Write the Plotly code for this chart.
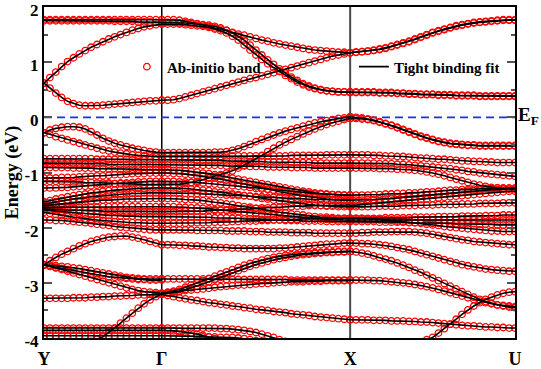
import plotly.graph_objects as go

# ---------------- k-path / axes data ----------------
K_TICKS = [0, 20, 52, 80]
K_LABELS = ["Y", "Γ", "X", "U"]
E_TICKS = [-4, -3, -2, -1, 0, 1, 2]
E_TICK_TEXT = ["-4", "-3", "-2", "-1", "0", "1", "2"]
E_MINOR = [-3.5, -2.5, -1.5, -0.5, 0.5, 1.5]
E_FERMI = 0.0

K_YG = list(range(0, 21))
K_GX = list(range(20, 53))
K_XU = list(range(52, 81))

# ---------------- bands, segment Y-Gamma (21 k-points) ----------------
BANDS_YG = [
    [1.77,1.77,1.77,1.77,1.77,1.77,1.77,1.77,1.77,1.77,1.77,1.77,1.77,1.77,1.77,1.77,1.77,1.77,1.77,1.77,1.77],
    [1.75,1.75,1.75,1.75,1.75,1.75,1.75,1.75,1.75,1.75,1.75,1.75,1.74,1.74,1.74,1.74,1.73,1.73,1.73,1.72,1.72],
    [0.62,0.72,0.82,0.92,1.01,1.08,1.15,1.21,1.27,1.32,1.37,1.42,1.46,1.50,1.54,1.58,1.61,1.64,1.66,1.68,1.69],
    [0.62,0.53,0.44,0.36,0.29,0.25,0.22,0.21,0.21,0.21,0.22,0.23,0.24,0.25,0.26,0.27,0.28,0.29,0.30,0.30,0.31],
    [-0.28,-0.23,-0.20,-0.18,-0.17,-0.17,-0.18,-0.21,-0.26,-0.32,-0.38,-0.43,-0.47,-0.50,-0.53,-0.56,-0.58,-0.60,-0.62,-0.63,-0.64],
    [-0.28,-0.31,-0.35,-0.38,-0.41,-0.44,-0.47,-0.50,-0.53,-0.56,-0.59,-0.61,-0.63,-0.65,-0.66,-0.68,-0.69,-0.70,-0.70,-0.71,-0.71],
    [-0.75,-0.75,-0.75,-0.75,-0.75,-0.75,-0.75,-0.75,-0.75,-0.76,-0.76,-0.76,-0.76,-0.76,-0.76,-0.77,-0.77,-0.77,-0.77,-0.77,-0.77],
    [-0.83,-0.83,-0.83,-0.83,-0.83,-0.83,-0.84,-0.84,-0.84,-0.84,-0.84,-0.85,-0.85,-0.85,-0.85,-0.85,-0.86,-0.86,-0.86,-0.86,-0.86],
    [-0.91,-0.91,-0.91,-0.91,-0.91,-0.92,-0.92,-0.92,-0.92,-0.93,-0.93,-0.93,-0.93,-0.94,-0.94,-0.94,-0.94,-0.95,-0.95,-0.95,-0.95],
    [-1.10,-1.10,-1.10,-1.09,-1.09,-1.09,-1.08,-1.07,-1.07,-1.06,-1.06,-1.05,-1.04,-1.04,-1.03,-1.02,-1.02,-1.02,-1.01,-1.01,-1.01],
    [-1.16,-1.16,-1.16,-1.16,-1.17,-1.17,-1.17,-1.18,-1.18,-1.19,-1.19,-1.19,-1.20,-1.20,-1.21,-1.21,-1.21,-1.22,-1.22,-1.22,-1.22],
    [-1.28,-1.28,-1.28,-1.27,-1.27,-1.26,-1.25,-1.25,-1.24,-1.23,-1.22,-1.21,-1.20,-1.19,-1.19,-1.18,-1.17,-1.17,-1.16,-1.16,-1.16],
    [-1.53,-1.51,-1.48,-1.46,-1.44,-1.42,-1.40,-1.39,-1.37,-1.36,-1.34,-1.33,-1.32,-1.31,-1.30,-1.30,-1.29,-1.29,-1.28,-1.28,-1.28],
    [-1.57,-1.55,-1.53,-1.51,-1.50,-1.48,-1.47,-1.45,-1.44,-1.43,-1.42,-1.41,-1.40,-1.39,-1.39,-1.38,-1.38,-1.37,-1.37,-1.37,-1.37],
    [-1.60,-1.59,-1.58,-1.56,-1.55,-1.54,-1.53,-1.53,-1.52,-1.51,-1.50,-1.50,-1.49,-1.49,-1.48,-1.48,-1.48,-1.47,-1.47,-1.47,-1.47],
    [-1.63,-1.63,-1.63,-1.63,-1.63,-1.63,-1.63,-1.63,-1.63,-1.63,-1.62,-1.62,-1.62,-1.62,-1.62,-1.62,-1.62,-1.62,-1.62,-1.62,-1.62],
    [-1.66,-1.66,-1.67,-1.67,-1.68,-1.68,-1.69,-1.69,-1.69,-1.69,-1.70,-1.70,-1.70,-1.70,-1.71,-1.71,-1.71,-1.71,-1.71,-1.71,-1.71],
    [-1.68,-1.69,-1.70,-1.71,-1.72,-1.73,-1.74,-1.75,-1.76,-1.76,-1.77,-1.78,-1.78,-1.79,-1.79,-1.79,-1.80,-1.80,-1.80,-1.80,-1.80],
    [-1.72,-1.74,-1.76,-1.78,-1.79,-1.81,-1.82,-1.84,-1.85,-1.86,-1.87,-1.88,-1.89,-1.90,-1.90,-1.91,-1.91,-1.92,-1.92,-1.92,-1.92],
    [-1.86,-1.86,-1.87,-1.87,-1.88,-1.89,-1.90,-1.91,-1.92,-1.94,-1.95,-1.96,-1.98,-1.99,-2.00,-2.01,-2.02,-2.03,-2.04,-2.04,-2.04],
    [-2.67,-2.60,-2.54,-2.48,-2.43,-2.38,-2.33,-2.29,-2.25,-2.22,-2.19,-2.17,-2.16,-2.15,-2.15,-2.17,-2.19,-2.22,-2.25,-2.28,-2.31],
    [-2.67,-2.68,-2.69,-2.70,-2.71,-2.73,-2.74,-2.76,-2.78,-2.80,-2.82,-2.84,-2.86,-2.88,-2.90,-2.91,-2.92,-2.93,-2.93,-2.93,-2.93],
    [-2.68,-2.70,-2.73,-2.76,-2.79,-2.82,-2.85,-2.88,-2.91,-2.94,-2.97,-3.00,-3.03,-3.06,-3.09,-3.12,-3.14,-3.16,-3.17,-3.18,-3.19],
    [-2.68,-2.70,-2.72,-2.74,-2.76,-2.78,-2.80,-2.82,-2.84,-2.86,-2.87,-2.89,-2.90,-2.91,-2.92,-2.93,-2.94,-2.94,-2.95,-2.95,-2.95],
    [-3.28,-3.28,-3.28,-3.28,-3.28,-3.27,-3.27,-3.27,-3.26,-3.26,-3.25,-3.25,-3.24,-3.24,-3.23,-3.23,-3.22,-3.22,-3.21,-3.21,-3.21],
    [-4.60,-4.54,-4.47,-4.40,-4.33,-4.26,-4.19,-4.12,-4.06,-4.02,-3.98,-3.90,-3.82,-3.73,-3.64,-3.55,-3.46,-3.38,-3.31,-3.25,-3.20],
    [-3.82,-3.82,-3.82,-3.82,-3.82,-3.82,-3.82,-3.82,-3.82,-3.82,-3.82,-3.82,-3.82,-3.82,-3.82,-3.82,-3.82,-3.82,-3.82,-3.82,-3.82],
    [-3.86,-3.86,-3.86,-3.86,-3.86,-3.86,-3.86,-3.86,-3.86,-3.86,-3.86,-3.86,-3.86,-3.86,-3.86,-3.86,-3.86,-3.86,-3.86,-3.86,-3.86],
    [-3.96,-3.96,-3.96,-3.96,-3.96,-3.96,-3.96,-3.96,-3.96,-3.96,-3.96,-3.96,-3.96,-3.96,-3.96,-3.96,-3.96,-3.96,-3.96,-3.96,-3.96],
]

# ---------------- bands, segment Gamma-X (33 k-points) ----------------
BANDS_GX = [
    [1.77,1.77,1.77,1.76,1.74,1.72,1.70,1.67,1.65,1.62,1.60,1.57,1.54,1.51,1.49,1.46,1.43,1.40,1.38,1.35,1.33,1.31,1.29,1.27,1.25,1.23,1.22,1.21,1.20,1.19,1.18,1.18,1.17],
    [1.72,1.72,1.72,1.71,1.71,1.70,1.69,1.68,1.67,1.65,1.62,1.58,1.53,1.47,1.40,1.31,1.22,1.13,1.04,0.96,0.88,0.80,0.73,0.67,0.61,0.57,0.53,0.50,0.48,0.47,0.46,0.46,0.45],
    [1.69,1.69,1.69,1.69,1.68,1.67,1.66,1.65,1.63,1.60,1.57,1.53,1.47,1.40,1.31,1.22,1.13,1.05,0.97,0.90,0.83,0.76,0.70,0.64,0.59,0.55,0.52,0.50,0.48,0.47,0.46,0.46,0.46],
    [0.31,0.31,0.32,0.34,0.37,0.40,0.43,0.46,0.49,0.52,0.55,0.58,0.61,0.64,0.67,0.70,0.72,0.75,0.78,0.81,0.84,0.87,0.90,0.93,0.96,0.99,1.02,1.05,1.08,1.11,1.13,1.15,1.17],
    [-0.64,-0.64,-0.64,-0.64,-0.64,-0.64,-0.64,-0.64,-0.64,-0.63,-0.63,-0.62,-0.60,-0.57,-0.53,-0.49,-0.44,-0.40,-0.36,-0.32,-0.28,-0.25,-0.22,-0.19,-0.16,-0.13,-0.10,-0.08,-0.06,-0.04,-0.02,-0.01,0.01],
    [-1.22,-1.22,-1.22,-1.21,-1.20,-1.18,-1.16,-1.13,-1.10,-1.07,-1.04,-1.01,-0.97,-0.92,-0.87,-0.81,-0.75,-0.69,-0.62,-0.56,-0.50,-0.45,-0.40,-0.35,-0.30,-0.25,-0.21,-0.17,-0.13,-0.10,-0.07,-0.04,-0.02],
    [-0.71,-0.71,-0.71,-0.71,-0.71,-0.71,-0.71,-0.71,-0.71,-0.71,-0.71,-0.70,-0.70,-0.70,-0.70,-0.70,-0.70,-0.70,-0.70,-0.70,-0.70,-0.70,-0.69,-0.69,-0.69,-0.69,-0.69,-0.69,-0.68,-0.68,-0.68,-0.68,-0.68],
    [-0.77,-0.77,-0.77,-0.77,-0.77,-0.77,-0.78,-0.78,-0.78,-0.78,-0.78,-0.79,-0.79,-0.79,-0.79,-0.80,-0.80,-0.80,-0.81,-0.81,-0.81,-0.81,-0.82,-0.82,-0.82,-0.82,-0.83,-0.83,-0.83,-0.83,-0.83,-0.83,-0.83],
    [-0.86,-0.86,-0.86,-0.86,-0.86,-0.86,-0.87,-0.87,-0.87,-0.87,-0.87,-0.88,-0.88,-0.88,-0.88,-0.89,-0.89,-0.89,-0.90,-0.90,-0.90,-0.90,-0.91,-0.91,-0.91,-0.91,-0.92,-0.92,-0.92,-0.92,-0.92,-0.92,-0.92],
    [-0.95,-0.95,-0.96,-0.96,-0.97,-0.98,-0.99,-1.01,-1.02,-1.04,-1.06,-1.08,-1.10,-1.12,-1.14,-1.16,-1.18,-1.20,-1.22,-1.24,-1.26,-1.28,-1.30,-1.32,-1.34,-1.35,-1.37,-1.38,-1.39,-1.40,-1.40,-1.41,-1.41],
    [-1.01,-1.01,-1.02,-1.02,-1.03,-1.04,-1.06,-1.07,-1.09,-1.10,-1.12,-1.14,-1.17,-1.19,-1.21,-1.23,-1.26,-1.28,-1.30,-1.32,-1.35,-1.37,-1.39,-1.41,-1.42,-1.44,-1.45,-1.47,-1.48,-1.49,-1.49,-1.50,-1.50],
    [-1.16,-1.16,-1.16,-1.17,-1.17,-1.18,-1.18,-1.19,-1.20,-1.21,-1.22,-1.23,-1.24,-1.25,-1.26,-1.27,-1.29,-1.30,-1.31,-1.32,-1.33,-1.34,-1.35,-1.36,-1.37,-1.38,-1.39,-1.39,-1.40,-1.40,-1.41,-1.41,-1.41],
    [-1.28,-1.28,-1.28,-1.29,-1.29,-1.30,-1.31,-1.32,-1.33,-1.35,-1.36,-1.37,-1.39,-1.40,-1.42,-1.43,-1.45,-1.47,-1.48,-1.50,-1.51,-1.53,-1.54,-1.55,-1.57,-1.58,-1.59,-1.60,-1.61,-1.61,-1.62,-1.62,-1.62],
    [-1.37,-1.37,-1.37,-1.37,-1.38,-1.38,-1.38,-1.39,-1.39,-1.40,-1.40,-1.41,-1.41,-1.42,-1.42,-1.43,-1.44,-1.44,-1.45,-1.45,-1.46,-1.46,-1.47,-1.47,-1.48,-1.48,-1.49,-1.49,-1.49,-1.50,-1.50,-1.50,-1.50],
    [-1.47,-1.47,-1.47,-1.48,-1.49,-1.49,-1.50,-1.51,-1.53,-1.54,-1.55,-1.57,-1.58,-1.60,-1.62,-1.63,-1.65,-1.67,-1.68,-1.70,-1.72,-1.73,-1.75,-1.76,-1.77,-1.79,-1.80,-1.81,-1.81,-1.82,-1.83,-1.83,-1.83],
    [-1.62,-1.62,-1.62,-1.63,-1.63,-1.64,-1.64,-1.65,-1.66,-1.67,-1.68,-1.69,-1.70,-1.71,-1.72,-1.73,-1.74,-1.75,-1.76,-1.77,-1.78,-1.79,-1.80,-1.81,-1.82,-1.83,-1.84,-1.84,-1.85,-1.85,-1.86,-1.86,-1.86],
    [-1.71,-1.71,-1.71,-1.71,-1.70,-1.70,-1.70,-1.70,-1.69,-1.69,-1.68,-1.68,-1.67,-1.67,-1.66,-1.66,-1.65,-1.64,-1.64,-1.63,-1.63,-1.62,-1.62,-1.61,-1.61,-1.60,-1.60,-1.60,-1.60,-1.59,-1.59,-1.59,-1.59],
    [-1.80,-1.80,-1.80,-1.80,-1.80,-1.81,-1.81,-1.81,-1.81,-1.82,-1.82,-1.82,-1.83,-1.83,-1.84,-1.84,-1.84,-1.85,-1.85,-1.86,-1.86,-1.87,-1.87,-1.87,-1.88,-1.88,-1.88,-1.88,-1.89,-1.89,-1.89,-1.89,-1.89],
    [-1.92,-1.92,-1.92,-1.92,-1.92,-1.91,-1.91,-1.91,-1.91,-1.90,-1.90,-1.90,-1.89,-1.89,-1.88,-1.88,-1.88,-1.87,-1.87,-1.86,-1.86,-1.85,-1.85,-1.85,-1.84,-1.84,-1.84,-1.84,-1.83,-1.83,-1.83,-1.83,-1.83],
    [-2.04,-2.04,-2.04,-2.04,-2.04,-2.04,-2.05,-2.05,-2.05,-2.05,-2.05,-2.06,-2.06,-2.06,-2.06,-2.07,-2.07,-2.07,-2.08,-2.08,-2.08,-2.08,-2.09,-2.09,-2.09,-2.09,-2.10,-2.10,-2.10,-2.10,-2.10,-2.10,-2.10],
    [-2.31,-2.31,-2.31,-2.32,-2.32,-2.33,-2.33,-2.34,-2.35,-2.35,-2.36,-2.36,-2.37,-2.37,-2.38,-2.38,-2.38,-2.38,-2.38,-2.38,-2.37,-2.37,-2.36,-2.35,-2.34,-2.33,-2.32,-2.31,-2.30,-2.30,-2.29,-2.28,-2.28],
    [-3.19,-3.17,-3.15,-3.12,-3.08,-3.04,-3.00,-2.96,-2.92,-2.88,-2.84,-2.80,-2.76,-2.72,-2.68,-2.65,-2.62,-2.59,-2.56,-2.54,-2.52,-2.50,-2.49,-2.48,-2.47,-2.46,-2.45,-2.45,-2.44,-2.44,-2.43,-2.43,-2.43],
    [-3.19,-3.18,-3.17,-3.15,-3.12,-3.09,-3.06,-3.02,-2.98,-2.94,-2.90,-2.86,-2.82,-2.78,-2.74,-2.70,-2.67,-2.64,-2.61,-2.58,-2.56,-2.54,-2.52,-2.50,-2.49,-2.48,-2.47,-2.46,-2.45,-2.45,-2.44,-2.44,-2.43],
    [-2.93,-2.93,-2.93,-2.93,-2.93,-2.93,-2.93,-2.93,-2.93,-2.93,-2.94,-2.94,-2.94,-2.94,-2.94,-2.94,-2.94,-2.94,-2.94,-2.94,-2.94,-2.94,-2.95,-2.95,-2.95,-2.95,-2.95,-2.95,-2.95,-2.95,-2.95,-2.95,-2.95],
    [-3.20,-3.19,-3.17,-3.16,-3.14,-3.13,-3.12,-3.11,-3.10,-3.08,-3.07,-3.06,-3.05,-3.04,-3.04,-3.03,-3.02,-3.01,-3.01,-3.00,-2.99,-2.99,-2.98,-2.98,-2.98,-2.97,-2.97,-2.97,-2.96,-2.96,-2.96,-2.96,-2.96],
    [-3.21,-3.23,-3.25,-3.27,-3.29,-3.31,-3.32,-3.34,-3.36,-3.37,-3.39,-3.40,-3.42,-3.43,-3.45,-3.46,-3.48,-3.49,-3.50,-3.52,-3.53,-3.54,-3.56,-3.57,-3.58,-3.59,-3.61,-3.62,-3.63,-3.64,-3.65,-3.66,-3.67],
    [-3.82,-3.82,-3.82,-3.82,-3.82,-3.82,-3.82,-3.82,-3.82,-3.82,-3.83,-3.83,-3.84,-3.85,-3.86,-3.88,-3.90,-3.93,-3.96,-3.99,-4.03,-4.06,-4.10,-4.14,-4.18,-4.22,-4.26,-4.30,-4.34,-4.38,-4.42,-4.46,-4.50],
    [-3.86,-3.86,-3.87,-3.88,-3.89,-3.91,-3.93,-3.95,-3.98,-4.01,-4.05,-4.09,-4.13,-4.17,-4.21,-4.25,-4.29,-4.33,-4.37,-4.41,-4.45,-4.48,-4.51,-4.54,-4.57,-4.60,-4.62,-4.64,-4.66,-4.68,-4.69,-4.70,-4.70],
    [-3.96,-3.96,-3.96,-3.97,-3.97,-3.97,-3.97,-3.98,-3.98,-3.98,-3.99,-3.99,-3.99,-4.00,-4.01,-4.03,-4.05,-4.08,-4.11,-4.14,-4.17,-4.20,-4.23,-4.26,-4.29,-4.32,-4.35,-4.38,-4.41,-4.44,-4.47,-4.50,-4.52],
]

# ---------------- bands, segment X-U (29 k-points) ----------------
BANDS_XU = [
    [1.17,1.18,1.19,1.20,1.22,1.24,1.26,1.29,1.32,1.35,1.38,1.42,1.46,1.50,1.54,1.57,1.60,1.63,1.66,1.68,1.70,1.72,1.73,1.74,1.75,1.76,1.77,1.77,1.77],
    [1.17,1.18,1.19,1.20,1.21,1.23,1.25,1.28,1.31,1.34,1.37,1.41,1.45,1.49,1.53,1.56,1.59,1.62,1.65,1.67,1.69,1.71,1.72,1.73,1.74,1.75,1.76,1.76,1.76],
    [0.46,0.46,0.46,0.46,0.46,0.45,0.45,0.45,0.44,0.44,0.43,0.43,0.42,0.42,0.42,0.41,0.41,0.41,0.40,0.40,0.40,0.40,0.39,0.39,0.39,0.39,0.39,0.39,0.39],
    [0.45,0.45,0.45,0.45,0.45,0.44,0.44,0.44,0.43,0.43,0.42,0.42,0.41,0.41,0.41,0.40,0.40,0.40,0.39,0.39,0.39,0.39,0.38,0.38,0.38,0.38,0.38,0.38,0.38],
    [0.01,0.00,-0.01,-0.03,-0.05,-0.08,-0.11,-0.14,-0.18,-0.22,-0.26,-0.30,-0.34,-0.37,-0.40,-0.43,-0.45,-0.47,-0.48,-0.49,-0.50,-0.50,-0.51,-0.51,-0.51,-0.51,-0.51,-0.51,-0.51],
    [-0.02,-0.02,-0.03,-0.04,-0.06,-0.09,-0.12,-0.15,-0.19,-0.23,-0.27,-0.31,-0.35,-0.38,-0.41,-0.44,-0.46,-0.48,-0.49,-0.50,-0.51,-0.51,-0.52,-0.52,-0.52,-0.52,-0.52,-0.52,-0.52],
    [-0.68,-0.68,-0.68,-0.68,-0.69,-0.69,-0.70,-0.70,-0.71,-0.71,-0.72,-0.73,-0.74,-0.74,-0.75,-0.76,-0.76,-0.77,-0.78,-0.79,-0.79,-0.80,-0.80,-0.81,-0.81,-0.82,-0.82,-0.82,-0.82],
    [-0.83,-0.83,-0.83,-0.83,-0.83,-0.84,-0.84,-0.84,-0.85,-0.85,-0.86,-0.87,-0.88,-0.89,-0.90,-0.91,-0.92,-0.93,-0.95,-0.96,-0.98,-0.99,-1.01,-1.02,-1.03,-1.04,-1.05,-1.06,-1.07],
    [-0.92,-0.92,-0.92,-0.92,-0.92,-0.93,-0.93,-0.93,-0.94,-0.94,-0.95,-0.96,-0.97,-0.99,-1.01,-1.03,-1.06,-1.09,-1.12,-1.15,-1.18,-1.21,-1.23,-1.25,-1.27,-1.28,-1.29,-1.30,-1.30],
    [-1.41,-1.41,-1.41,-1.41,-1.40,-1.40,-1.39,-1.39,-1.38,-1.38,-1.37,-1.37,-1.36,-1.35,-1.35,-1.34,-1.33,-1.32,-1.32,-1.31,-1.31,-1.30,-1.30,-1.29,-1.29,-1.28,-1.28,-1.28,-1.28],
    [-1.50,-1.50,-1.50,-1.49,-1.49,-1.48,-1.48,-1.47,-1.46,-1.45,-1.44,-1.43,-1.42,-1.41,-1.40,-1.39,-1.38,-1.37,-1.36,-1.35,-1.34,-1.33,-1.32,-1.32,-1.31,-1.31,-1.30,-1.30,-1.30],
    [-1.60,-1.59,-1.58,-1.57,-1.56,-1.55,-1.54,-1.53,-1.52,-1.51,-1.50,-1.50,-1.49,-1.48,-1.47,-1.46,-1.45,-1.44,-1.43,-1.42,-1.41,-1.40,-1.39,-1.38,-1.37,-1.36,-1.35,-1.34,-1.34],
    [-1.62,-1.62,-1.62,-1.62,-1.62,-1.61,-1.61,-1.61,-1.61,-1.60,-1.60,-1.60,-1.59,-1.59,-1.59,-1.58,-1.58,-1.58,-1.58,-1.57,-1.57,-1.57,-1.56,-1.56,-1.56,-1.56,-1.55,-1.55,-1.55],
    [-1.83,-1.83,-1.83,-1.83,-1.83,-1.83,-1.82,-1.82,-1.82,-1.82,-1.82,-1.81,-1.81,-1.81,-1.81,-1.80,-1.80,-1.80,-1.80,-1.79,-1.79,-1.79,-1.79,-1.78,-1.78,-1.78,-1.77,-1.77,-1.77],
    [-1.86,-1.86,-1.86,-1.86,-1.86,-1.86,-1.86,-1.86,-1.86,-1.86,-1.86,-1.86,-1.86,-1.86,-1.86,-1.86,-1.86,-1.86,-1.86,-1.86,-1.86,-1.86,-1.86,-1.86,-1.86,-1.86,-1.86,-1.86,-1.86],
    [-1.89,-1.89,-1.89,-1.89,-1.89,-1.90,-1.90,-1.90,-1.90,-1.90,-1.91,-1.91,-1.91,-1.91,-1.92,-1.92,-1.92,-1.92,-1.93,-1.93,-1.93,-1.93,-1.94,-1.94,-1.94,-1.95,-1.95,-1.95,-1.95],
    [-1.83,-1.83,-1.83,-1.84,-1.84,-1.85,-1.86,-1.87,-1.88,-1.89,-1.90,-1.91,-1.92,-1.94,-1.95,-1.96,-1.98,-1.99,-2.00,-2.01,-2.02,-2.03,-2.04,-2.05,-2.06,-2.06,-2.07,-2.07,-2.07],
    [-2.10,-2.10,-2.09,-2.09,-2.08,-2.08,-2.08,-2.07,-2.07,-2.07,-2.07,-2.08,-2.09,-2.10,-2.12,-2.14,-2.16,-2.18,-2.20,-2.22,-2.23,-2.25,-2.26,-2.27,-2.28,-2.29,-2.30,-2.31,-2.31],
    [-2.28,-2.28,-2.29,-2.29,-2.30,-2.31,-2.32,-2.34,-2.36,-2.38,-2.40,-2.43,-2.46,-2.49,-2.52,-2.55,-2.58,-2.61,-2.64,-2.67,-2.69,-2.71,-2.73,-2.75,-2.76,-2.77,-2.78,-2.79,-2.79],
    [-2.43,-2.44,-2.46,-2.48,-2.51,-2.54,-2.57,-2.60,-2.64,-2.68,-2.72,-2.77,-2.81,-2.86,-2.91,-2.96,-3.01,-3.06,-3.11,-3.16,-3.21,-3.26,-3.30,-3.34,-3.37,-3.40,-3.42,-3.44,-3.45],
    [-2.95,-2.95,-2.95,-2.95,-2.96,-2.96,-2.97,-2.98,-2.99,-3.00,-3.01,-3.03,-3.05,-3.07,-3.09,-3.12,-3.15,-3.18,-3.21,-3.24,-3.27,-3.30,-3.33,-3.36,-3.38,-3.40,-3.41,-3.42,-3.43],
    [-4.50,-4.46,-4.43,-4.40,-4.36,-4.33,-4.29,-4.26,-4.22,-4.19,-4.15,-4.11,-4.07,-4.03,-3.99,-3.91,-3.83,-3.75,-3.66,-3.57,-3.49,-3.42,-3.36,-3.30,-3.26,-3.22,-3.19,-3.17,-3.16],
    [-3.67,-3.67,-3.67,-3.67,-3.68,-3.68,-3.68,-3.69,-3.69,-3.69,-3.70,-3.70,-3.71,-3.71,-3.72,-3.73,-3.74,-3.75,-3.76,-3.77,-3.78,-3.78,-3.79,-3.80,-3.80,-3.81,-3.81,-3.82,-3.82],
]

# ---------------- assemble traces ----------------
xs, ys = [], []
for kseg, bands in ((K_YG, BANDS_YG), (K_GX, BANDS_GX), (K_XU, BANDS_XU)):
    for band in bands:
        for k, e in zip(kseg, band):
            xs.append(k)
            ys.append(e)
        xs.append(None)
        ys.append(None)

SERIF = "Liberation Serif, Times New Roman, serif"
LEG_FONT = dict(family=SERIF, size=15, color="black", weight="bold")

fig = go.Figure()
fig.add_trace(go.Scatter(
    x=xs, y=ys, mode="markers", name="Ab-initio band", legend="legend",
    marker=dict(symbol="circle-open", size=6.5, color="#ff0000",
                line=dict(width=1.3, color="#ff0000")),
))
fig.add_trace(go.Scatter(
    x=xs, y=ys, mode="lines", name="Tight binding fit", legend="legend2",
    line=dict(color="black", width=1.6), connectgaps=False,
))

# high-symmetry vertical lines and Fermi level
fig.add_vline(x=K_TICKS[1], line=dict(color="black", width=1.5), layer="below")
fig.add_vline(x=K_TICKS[2], line=dict(color="#4a4a4a", width=2), layer="below")
fig.add_hline(y=E_FERMI, line=dict(color="#1f2fe8", width=1.6, dash="8px,5px"), layer="below")

fig.add_annotation(
    x=1.0, xref="paper", y=E_FERMI, yref="y", xanchor="left", yanchor="middle",
    xshift=1, yshift=1, showarrow=False,
    text="<b>E<sub>F</sub></b>", font=dict(family=SERIF, size=19, color="black"),
)

fig.update_layout(
    width=541, height=369,
    margin=dict(l=44, r=26, t=7, b=31),
    paper_bgcolor="white", plot_bgcolor="white",
    showlegend=True,
    legend=dict(
        orientation="h", x=0.176, y=0.819, xanchor="left", yanchor="middle",
        font=LEG_FONT, bgcolor="rgba(0,0,0,0)", borderwidth=0,
    ),
    legend2=dict(
        orientation="h", x=0.658, y=0.819, xanchor="left", yanchor="middle",
        font=LEG_FONT, bgcolor="rgba(0,0,0,0)", borderwidth=0,
    ),
    xaxis=dict(
        range=[K_TICKS[0], K_TICKS[-1]],
        tickvals=K_TICKS, ticktext=K_LABELS,
        tickfont=dict(family=SERIF, size=18, color="black", weight="bold"),
        ticks="outside", ticklen=3, tickcolor="rgba(0,0,0,0)",
        ticklabeloverflow="allow",
        showgrid=False, zeroline=False,
        showline=True, linecolor="black", linewidth=2, mirror=True,
        automargin=False,
    ),
    yaxis=dict(
        range=[-4, 2],
        tickvals=E_TICKS, ticktext=E_TICK_TEXT,
        tickfont=dict(family=SERIF, size=17, color="black", weight="bold"),
        ticks="inside", ticklen=8, tickwidth=2, tickcolor="#555555",
        minor=dict(tickvals=E_MINOR, ticks="inside", ticklen=4, tickwidth=2, tickcolor="#555555"),
        ticklabeloverflow="allow", ticklabelshift=3,
        showgrid=False, zeroline=False,
        showline=True, linecolor="black", linewidth=2, mirror="ticks",
        title=dict(text="Energy (eV)", font=dict(family=SERIF, size=18, color="black", weight="bold"), standoff=1),
        automargin=False,
    ),
)

fig.write_html(
    "out.html",
    config={"displayModeBar": False},
    post_script="document.body.style.margin='0px';",
)
